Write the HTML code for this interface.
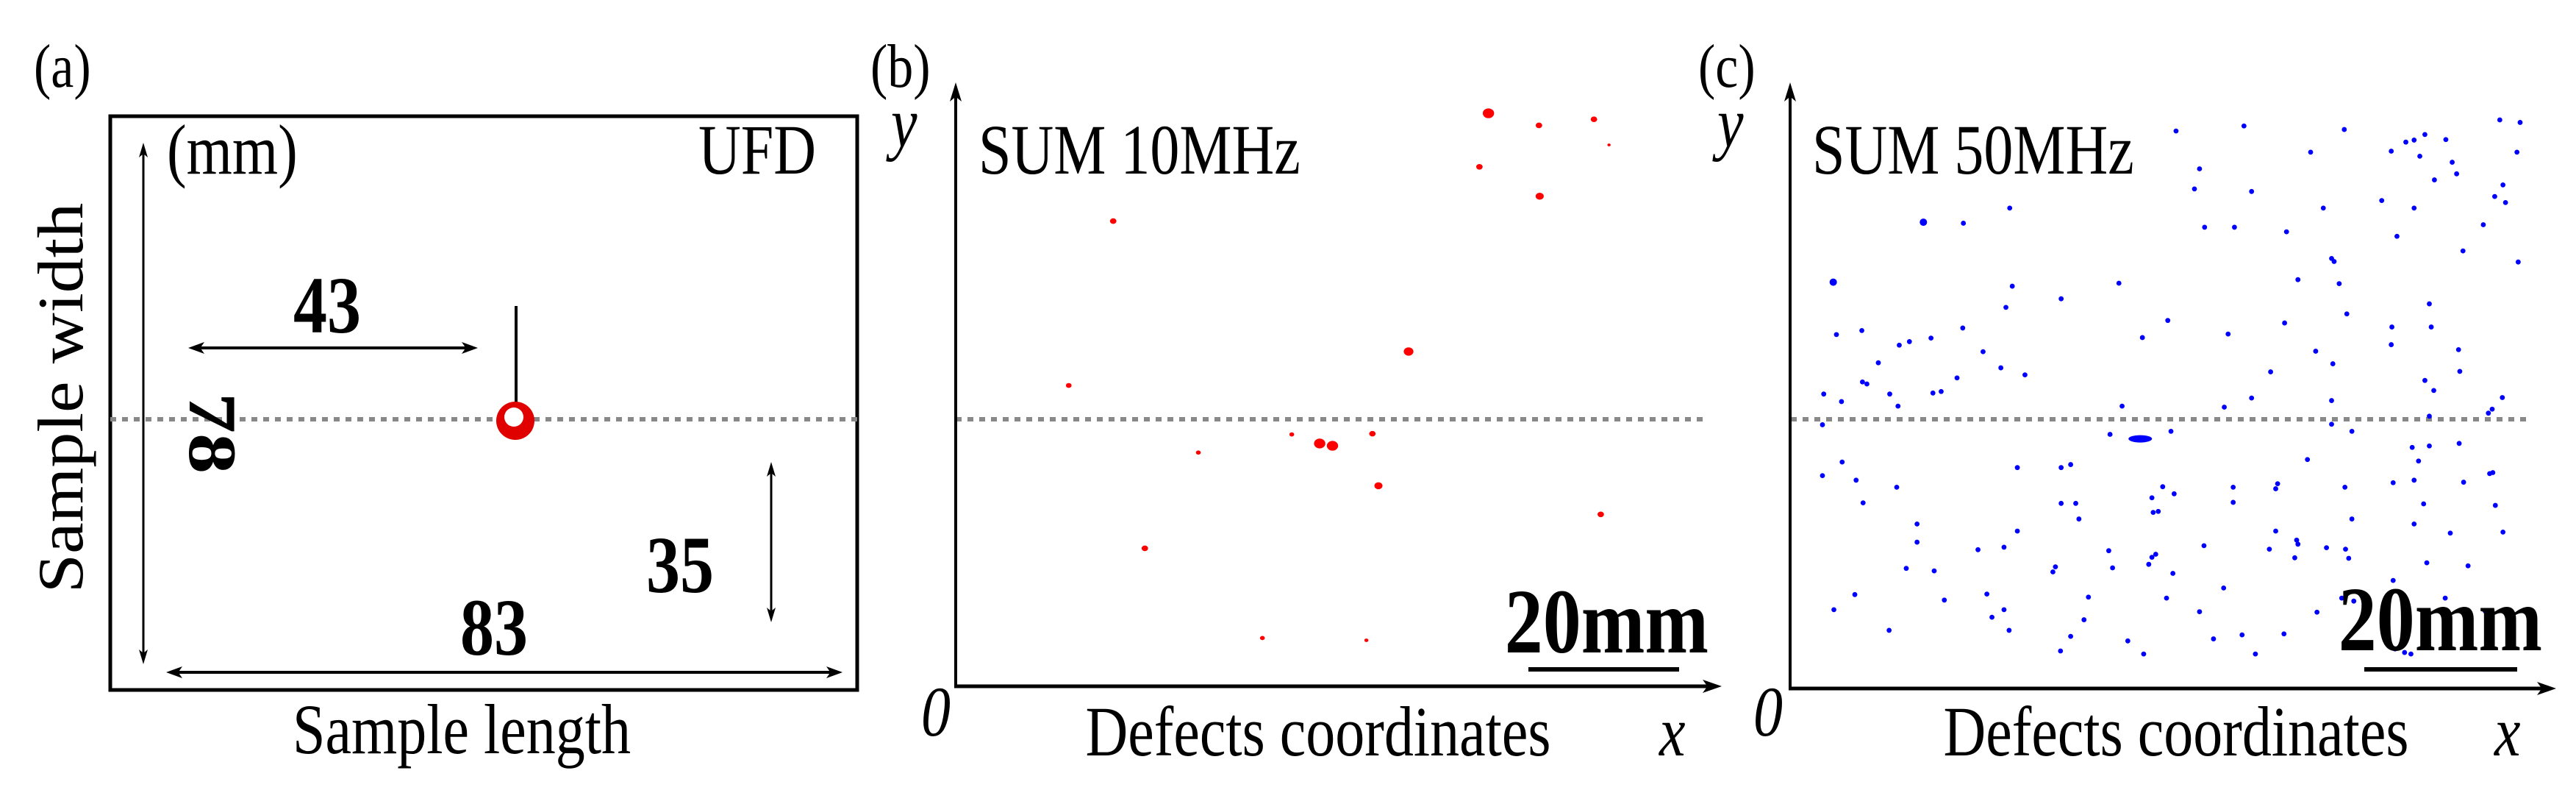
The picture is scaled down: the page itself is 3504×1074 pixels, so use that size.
<!DOCTYPE html>
<html><head><meta charset="utf-8"><style>
html,body{margin:0;padding:0;background:#fff;}
svg{display:block;}
text{font-family:"Liberation Serif",serif;}
</style></head><body>
<svg id="fig" width="3504" height="1074" viewBox="0 0 3504 1074" xmlns="http://www.w3.org/2000/svg">

<!-- Panel a -->
<g id="pa">
<text transform="translate(46,118) scale(1,1.2)" font-size="70">(a)</text>
<rect x="150" y="158" width="1016" height="780" fill="none" stroke="#000" stroke-width="5"/>
<line x1="150" y1="570" x2="1166" y2="570" stroke="#888" stroke-width="6" stroke-dasharray="8 8"/>
<text transform="translate(227,236) scale(1,1.2)" font-size="80">(mm)</text>
<text transform="translate(1110,236) scale(1,1.2)" font-size="80" text-anchor="end">UFD</text>
<text transform="translate(112,541) rotate(-90) scale(1.2,1.1)" font-size="80" text-anchor="middle">Sample width</text>
<text transform="translate(628,1024) scale(1,1.2)" font-size="80" text-anchor="middle">Sample length</text>
<text transform="translate(445,452) scale(1,1.2)" font-size="92" font-weight="bold" text-anchor="middle">43</text>
<line x1="702" y1="416" x2="702" y2="548" stroke="#000" stroke-width="4"/>
<circle cx="701" cy="572" r="26" fill="#e00000"/>
<circle cx="699" cy="567" r="13" fill="#fff"/>
<text transform="translate(258,589) rotate(90) scale(1.2,1)" font-size="92" font-weight="bold" text-anchor="middle">78</text>
<text transform="translate(925,805) scale(1,1.2)" font-size="92" font-weight="bold" text-anchor="middle">35</text>
<text transform="translate(672,890) scale(1,1.2)" font-size="92" font-weight="bold" text-anchor="middle">83</text>
</g>

<!-- Panel b -->
<g id="pb">
<text transform="translate(1184,118) scale(1,1.2)" font-size="70">(b)</text>
<line x1="1300" y1="570" x2="2318" y2="570" stroke="#888" stroke-width="6" stroke-dasharray="8 8"/>
<text transform="translate(1212,199) scale(1,1.2)" font-size="80" font-style="italic">y</text>
<text transform="translate(1253,1000) scale(1,1.2)" font-size="80" font-style="italic">0</text>
<text transform="translate(2257,1027) scale(1,1.2)" font-size="80" font-style="italic">x</text>
<text transform="translate(1331,236) scale(1,1.2)" font-size="80">SUM 10MHz</text>
<text transform="translate(1793,1027) scale(1,1.2)" font-size="80" text-anchor="middle">Defects coordinates</text>
<text transform="translate(2324,887) scale(1,1.2)" font-size="104" font-weight="bold" text-anchor="end">20mm</text>
<line x1="2079" y1="910" x2="2284" y2="910" stroke="#000" stroke-width="6"/>
</g>

<!-- Panel c -->
<g id="pc">
<text transform="translate(2310,118) scale(1,1.2)" font-size="70">(c)</text>
<line x1="2436" y1="570" x2="3442" y2="570" stroke="#888" stroke-width="6" stroke-dasharray="8 8"/>
<text transform="translate(2336,199) scale(1,1.2)" font-size="80" font-style="italic">y</text>
<text transform="translate(2385,1000) scale(1,1.2)" font-size="80" font-style="italic">0</text>
<text transform="translate(3393,1027) scale(1,1.2)" font-size="80" font-style="italic">x</text>
<text transform="translate(2465,236) scale(1,1.2)" font-size="80">SUM 50MHz</text>
<text transform="translate(2960,1027) scale(1,1.2)" font-size="80" text-anchor="middle">Defects coordinates</text>
<line x1="3216" y1="910" x2="3424" y2="910" stroke="#000" stroke-width="6"/>
</g>
</svg>
<script>
// Panel b defects (mm from origin)
var bX=[70.7,77.4,84.7,86.7,69.5,77.5,20.9,60.1,15.0,44.6,48.3,50.0,55.3,32.2,56.1,85.6,25.1,40.7,54.5];
var bY=[76.0,74.4,75.2,71.8,68.9,65.0,61.7,44.4,39.9,33.4,32.2,31.9,33.5,31.0,26.6,22.8,18.3,6.4,6.1];
var bR=[7,4,4,2,4,5,4,6,3.5,3,7,7,4,3,5,4,4,3,2.5];
// Panel c defects (grid units)
var cX=[938,1045,1203,1448,1480,1330,1300,1313,1363,1277,1322,1150,1475,975,1373,1380,1345,1453,967,1057,1262,1440,1457,676,1170,1313,540,603,983,1030,1112,1422,1286,1390,1183,1187,1477,398,1130,848,680,1195,757,670,1337,1207,925,1109,1278,1340,602,403,443,1020,885,518,552,502,1277,1158,634,1383,469,662,1185,1087,1385,700,444,451,593,1330,1344,568,555,383,487,1057,1183,1452,411,500,853,1014,1436,1430,381,1183,1337,834,930,1215,1310,1337,1384,412,1145,1320,688,757,772,1437,1432,381,434,498,917,935,1028,1098,1095,1204,1280,1313,1391,445,757,780,900,1028,1328,1441,902,910,785,1215,530,1313,688,1095,1370,1453,530,1128,1130,626,667,832,982,1085,1175,1205,906,900,1125,1210,513,557,748,744,838,895,933,1333,1398,1280,432,640,573,800,923,1013,1199,1362,1218,399,667,975,1160,1425,648,793,1303,486,675,1042,1108,1296,772,997,862,756,887,1063,1283,1298,1308];
var cY=[260,250,257,238,243,267,282,278,277,300,310,302,302,335,322,345,357,367,375,380,398,390,402,413,413,413,441,443,451,451,460,446,469,498,513,519,520,560,555,562,568,563,593,610,603,623,636,641,649,649,651,664,656,663,670,678,671,685,684,697,698,694,720,730,722,738,737,744,758,762,750,755,775,777,780,782,782,790,795,789,797,806,806,808,812,820,843,842,826,862,856,856,888,885,880,917,912,915,928,928,922,938,940,944,953,967,966,980,967,960,970,967,958,953,957,998,999,999,988,997,1000,1003,1017,1015,1030,1030,1040,1040,1054,1054,1058,1056,1076,1072,1080,1091,1086,1093,1083,1090,1087,1090,1100,1106,1107,1108,1128,1133,1125,1135,1127,1120,1138,1117,1123,1152,1180,1179,1191,1185,1187,1167,1187,1187,1193,1210,1210,1214,1215,1213,1225,1230,1220,1251,1251,1260,1258,1260,1263,1268,1272,1292,1298,1298,1288,1295,1298];
var cClusterX=[870];
var cClusterY=[868];

var NS='http://www.w3.org/2000/svg';
function bx(v){return 1300+v*10.25;}
function by(v){return 933-v*10.25;}
function cx(v){return 2150+v*0.8635;}
function cy(v){return v*0.685;}
var pa=document.getElementById('pa'), pb=document.getElementById('pb'), pc=document.getElementById('pc');

function head(g,x,y,dx,dy,len,hw){
  var px=-dy, py=dx;
  var p=document.createElementNS(NS,'polygon');
  p.setAttribute('points',x+','+y+' '+(x-dx*len+px*hw)+','+(y-dy*len+py*hw)+' '+(x-dx*len*0.75)+','+(y-dy*len*0.75)+' '+(x-dx*len-px*hw)+','+(y-dy*len-py*hw));
  p.setAttribute('fill','#000');
  
  
  g.appendChild(p);
}
function arrow(g,name,x1,y1,x2,y2,sw,both,len,hw){
  var L=Math.hypot(x2-x1,y2-y1), dx=(x2-x1)/L, dy=(y2-y1)/L;
  var l=document.createElementNS(NS,'line');
  l.setAttribute('x1',x1+(both?dx*len*0.6:0));l.setAttribute('y1',y1+(both?dy*len*0.6:0));
  l.setAttribute('x2',x2-dx*len*0.6);l.setAttribute('y2',y2-dy*len*0.6);
  l.setAttribute('stroke','#000');l.setAttribute('stroke-width',sw);
  
  
  g.appendChild(l);
  head(g,x2,y2,dx,dy,len,hw);
  if(both) head(g,x1,y1,-dx,-dy,len,hw);
}
arrow(pa,'width-arrow',195,194,195,903,3,true,20,6);
arrow(pa,'arrow-43',256,473,650,473,4,true,22,8);
arrow(pa,'arrow-35',1049,628,1049,846,3,true,20,6);
arrow(pa,'arrow-83',226,914,1146,914,4,true,22,8);
arrow(pb,'y-axis-b',1300,933,1300,112,4,false,26,8);
arrow(pb,'x-axis-b',1298,933,2342,933,5,false,26,9);
arrow(pc,'y-axis-c',2435,936,2435,112,4,false,26,8);
arrow(pc,'x-axis-c',2433,936,3477,936,5,false,26,9);

for(var i=0;i<bX.length;i++){
  var e=document.createElementNS(NS,'ellipse');
  e.setAttribute('cx',bx(bX[i]));e.setAttribute('cy',by(bY[i]));
  e.setAttribute('rx',bR[i]*1.1);e.setAttribute('ry',bR[i]*0.95);
  e.setAttribute('fill','#f00');
  
  
  pb.appendChild(e);
}
for(var j=0;j<cX.length;j++){
  var d=document.createElementNS(NS,'circle');
  d.setAttribute('cx',cx(cX[j]));d.setAttribute('cy',cy(cY[j]));
  d.setAttribute('r',(cX[j]===540||cX[j]===398)?5:3.4);
  d.setAttribute('fill','#0000ff');
  
  
  pc.appendChild(d);
}
for(var k=0;k<cClusterX.length;k++){
  var c=document.createElementNS(NS,'ellipse');
  c.setAttribute('cx',cx(cClusterX[k])+10);c.setAttribute('cy',cy(cClusterY[k])+2);
  c.setAttribute('rx',16);c.setAttribute('ry',5);
  c.setAttribute('fill','#0000ff');
  
  
  pc.appendChild(c);
}
var t=document.createElementNS(NS,'text');
t.setAttribute('transform','translate(3458,884) scale(1,1.2)');
t.setAttribute('font-size',104);
t.setAttribute('font-weight','bold');t.setAttribute('text-anchor','end');


t.textContent='20mm';
pc.appendChild(t);
</script>
</body></html>
